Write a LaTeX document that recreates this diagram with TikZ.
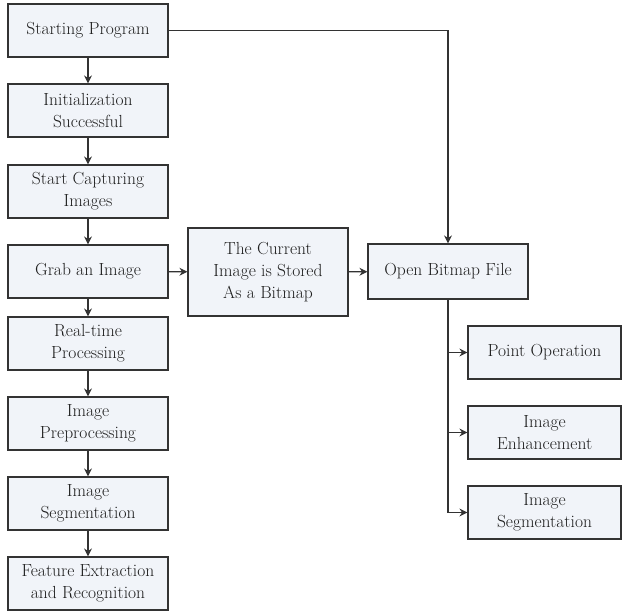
\documentclass[tikz,border=0pt]{standalone}
\usetikzlibrary{positioning,arrows.meta}
\definecolor{BoxFill}{HTML}{F1F4F9}
\definecolor{LineGray}{HTML}{333333}
\definecolor{TextDark}{HTML}{1E1E1E}

\begin{document}
\begin{tikzpicture}[
    x=1pt, y=-1pt,
    every node/.style={font=\fontsize{17.5}{22}\selectfont, text=TextDark},
    box/.style={rectangle, draw=LineGray, fill=BoxFill, line width=1.2pt, minimum width=160pt, minimum height=53pt, inner sep=2pt, align=center},
    sidebox/.style={box, minimum width=153pt},
    arrow/.style={-{Stealth[length=8pt,width=8pt]}, line width=1.2pt, color=LineGray}
  ]
    \useasboundingbox (0,0) rectangle (626,614);

    % Main column (left)
    \node[box] (start) at (88,30.5) {Starting Program};
    \node[box] (init) at (88,110.5) {Initialization\\Successful};
    \node[box] (capture) at (88,191.5) {Start Capturing\\Images};
    \node[box] (grab) at (88,271.5) {Grab an Image};
    \node[box] (realtime) at (88,343.5) {Real-time\\Processing};
    \node[box] (prep) at (88,423.5) {Image\\Preprocessing};
    \node[box] (segment) at (88,503.5) {Image\\Segmentation};
    \node[box] (feature) at (88,583.5) {Feature Extraction\\and Recognition};

    \draw[arrow] (start) -- (init);
    \draw[arrow] (init) -- (capture);
    \draw[arrow] (capture) -- (grab);
    \draw[arrow] (grab) -- (realtime);
    \draw[arrow] (realtime) -- (prep);
    \draw[arrow] (prep) -- (segment);
    \draw[arrow] (segment) -- (feature);

    % Storing the bitmap (center)
    \node[box, minimum height=88pt] (store) at (268,272) {The Current\\Image is Stored\\As a Bitmap};
    \node[box, minimum height=55pt] (openbmp) at (448,271.5) {Open Bitmap File};

    \draw[arrow] (grab) -- (store);
    \draw[arrow] (store) -- (openbmp);
    \draw[arrow] (start.east) -| (openbmp.north);

    % Bitmap operations (right)
    \node[sidebox] (pointop) at (544.5,352.5) {Point Operation};
    \node[sidebox] (enhance) at (544.5,432.5) {Image\\Enhancement};
    \node[sidebox] (segment2) at (544.5,512.5) {Image\\Segmentation};

    \draw[arrow] (openbmp.south) |- (pointop.west);
    \draw[arrow] (openbmp.south) |- (enhance.west);
    \draw[arrow] (openbmp.south) |- (segment2.west);

  \end{tikzpicture}
\end{document}
